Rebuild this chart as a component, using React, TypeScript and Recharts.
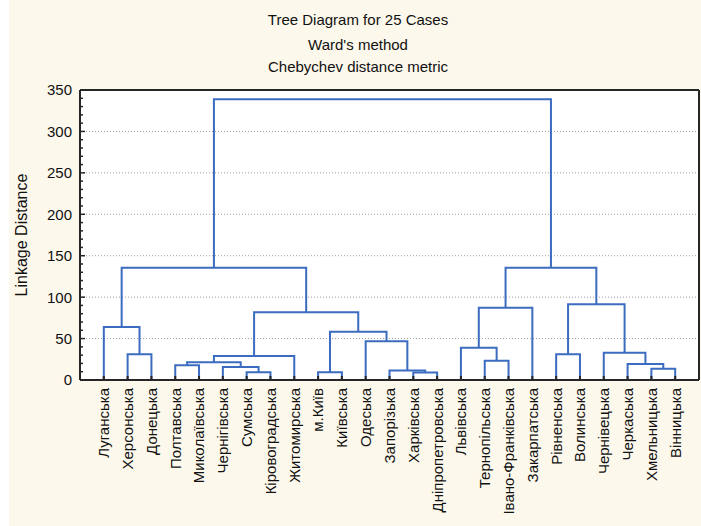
import React from "react";
import {
  LineChart,
  Line,
  XAxis,
  YAxis,
  ReferenceLine,
  ReferenceArea,
} from "recharts";

/* Leaves in the order the tree draws them */
const leafLabels = [
  "Луганська",
  "Херсонська",
  "Донецька",
  "Полтавська",
  "Миколаївська",
  "Чернігівська",
  "Сумська",
  "Кіровоградська",
  "Житомирська",
  "м.Київ",
  "Київська",
  "Одеська",
  "Запорізька",
  "Харківська",
  "Дніпропетровська",
  "Львівська",
  "Тернопільська",
  "Івано-Франківська",
  "Закарпатська",
  "Рівненська",
  "Волинська",
  "Чернівецька",
  "Черкаська",
  "Хмельницька",
  "Вінницька",
];

const mergeLeft = [6, 9, 13, 12, 23, 5, 3, 22, 31, 16, 33, 1, 19, 21, 15, 11, 26, 0, 35, 39, 37, 42, 44, 46];
const mergeRight = [7, 10, 14, 27, 24, 25, 4, 29, 30, 17, 8, 2, 20, 32, 34, 28, 40, 36, 41, 18, 38, 43, 45, 47];
const mergeHeight = [9.3, 9.3, 9, 11.5, 13.7, 15.7, 17.7, 19.3, 21.3, 23.3, 29, 31, 31, 33, 39, 46.7, 58.3, 64, 81.7, 87.3, 91.3, 135.6, 135.6, 338.7];

const yTicks = [0, 10, 20, 30, 40, 50, 60, 70, 80, 90, 100, 110, 120, 130, 140, 150, 160, 170, 180, 190, 200, 210, 220, 230, 240, 250, 260, 270, 280, 290, 300, 310, 320, 330, 340, 350];
const gridLines = [50, 100, 150, 200, 250, 300];

const leafTicks = leafLabels.map((_, i) => i);

// build the U-shaped links from the join table
const nodeX: number[] = leafLabels.map((_, i) => i);
const nodeH: number[] = leafLabels.map(() => 0);
const links = mergeHeight.map((h, k) => {
  const a = mergeLeft[k];
  const b = mergeRight[k];
  const seg = [
    { x: nodeX[a], y: nodeH[a] },
    { x: nodeX[a], y: h },
    { x: nodeX[b], y: h },
    { x: nodeX[b], y: nodeH[b] },
  ];
  nodeX.push((nodeX[a] + nodeX[b]) / 2);
  nodeH.push(h);
  return seg;
});

const FONT = '"Liberation Sans", Arial, sans-serif';
const AXIS = "#262626";
const BLUE = "#3b6cbf";

const LeafTick = (props: any) => {
  const { x, y, payload } = props;
  const ty = y + 8;
  return (
    <g>
      <line x1={x} y1={y} x2={x} y2={y - 4} stroke={AXIS} strokeWidth={2} />
      <text
        x={x}
        y={ty}
        transform={`rotate(-90 ${x} ${ty})`}
        textAnchor="end"
        dy="0.36em"
        fontFamily={FONT}
        fontSize={15}
        fill="#111"
      >
        {leafLabels[payload.value]}
      </text>
    </g>
  );
};

const TopTick = (props: any) => {
  const { x, y } = props;
  return <line x1={x} y1={y} x2={x} y2={y + 4} stroke={AXIS} strokeWidth={2} />;
};

const LeftTick = (props: any) => {
  const { x, y, payload } = props;
  const major = payload.value % 50 === 0;
  return (
    <g>
      <line x1={x} y1={y} x2={x + (major ? 5 : 3)} y2={y} stroke={AXIS} strokeWidth={1.5} />
      {major && (
        <text
          x={x - 8}
          y={y}
          dy="0.36em"
          textAnchor="end"
          fontFamily={FONT}
          fontSize={15}
          fill="#111"
        >
          {payload.value}
        </text>
      )}
    </g>
  );
};

const RightTick = (props: any) => {
  const { x, y, payload } = props;
  const major = payload.value % 50 === 0;
  return <line x1={x} y1={y} x2={x - (major ? 5 : 3)} y2={y} stroke={AXIS} strokeWidth={1.5} />;
};

export default function App() {
  return (
    <div
      style={{
        position: "absolute",
        left: 0,
        top: 0,
        width: 701,
        height: 526,
        background: "linear-gradient(to right, #ffffff 9px, #fdf8ec 9px)",
        fontFamily: FONT,
        color: "#111",
      }}
    >
      <div style={{ position: "absolute", left: 0, width: 716, top: 11, textAlign: "center", fontSize: 15 }}>
        Tree Diagram for 25 Cases
      </div>
      <div style={{ position: "absolute", left: 0, width: 716, top: 36, textAlign: "center", fontSize: 15 }}>
        Ward's method
      </div>
      <div style={{ position: "absolute", left: 0, width: 716, top: 58, textAlign: "center", fontSize: 15 }}>
        Chebychev distance metric
      </div>
      <div
        style={{
          position: "absolute",
          left: 22,
          top: 235,
          transform: "translate(-50%, -50%) rotate(-90deg)",
          whiteSpace: "nowrap",
          fontSize: 16,
        }}
      >
        Linkage Distance
      </div>

      <div style={{ position: "absolute", left: 0, top: 0 }}>
        <LineChart width={701} height={526} margin={{ top: 89, right: 0, bottom: 0, left: 0 }}>
          <ReferenceArea x1={-1} x2={25} y1={0} y2={350} fill="#ffffff" fillOpacity={1} stroke="none" ifOverflow="visible" />
          {gridLines.map((v) => (
            <ReferenceLine key={v} y={v} stroke="#a0a0a0" strokeDasharray="1 2" />
          ))}
          <XAxis
            dataKey="x"
            type="number"
            domain={[-1, 25]}
            ticks={leafTicks}
            interval={0}
            height={146}
            tickSize={0}
            tickMargin={0}
            tickLine={false}
            axisLine={{ stroke: AXIS, strokeWidth: 2 }}
            tick={LeafTick}
          />
          <XAxis
            xAxisId="top"
            orientation="top"
            dataKey="x"
            type="number"
            domain={[-1, 25]}
            ticks={leafTicks}
            interval={0}
            height={1}
            tickSize={0}
            tickMargin={0}
            tickLine={false}
            axisLine={{ stroke: AXIS, strokeWidth: 2 }}
            tick={TopTick}
          />
          <YAxis
            type="number"
            domain={[0, 350]}
            ticks={yTicks}
            interval={0}
            width={80}
            tickSize={0}
            tickMargin={0}
            tickLine={false}
            axisLine={{ stroke: AXIS, strokeWidth: 2 }}
            tick={LeftTick}
          />
          <YAxis
            yAxisId="right"
            orientation="right"
            type="number"
            domain={[0, 350]}
            ticks={yTicks}
            interval={0}
            width={2}
            tickSize={0}
            tickMargin={0}
            tickLine={false}
            axisLine={{ stroke: AXIS, strokeWidth: 2 }}
            tick={RightTick}
          />
          {links.map((seg, k) => (
            <Line
              key={k}
              data={seg}
              dataKey="y"
              type="linear"
              stroke={BLUE}
              strokeWidth={2}
              dot={false}
              activeDot={false}
              isAnimationActive={false}
            />
          ))}
        </LineChart>
      </div>
    </div>
  );
}
